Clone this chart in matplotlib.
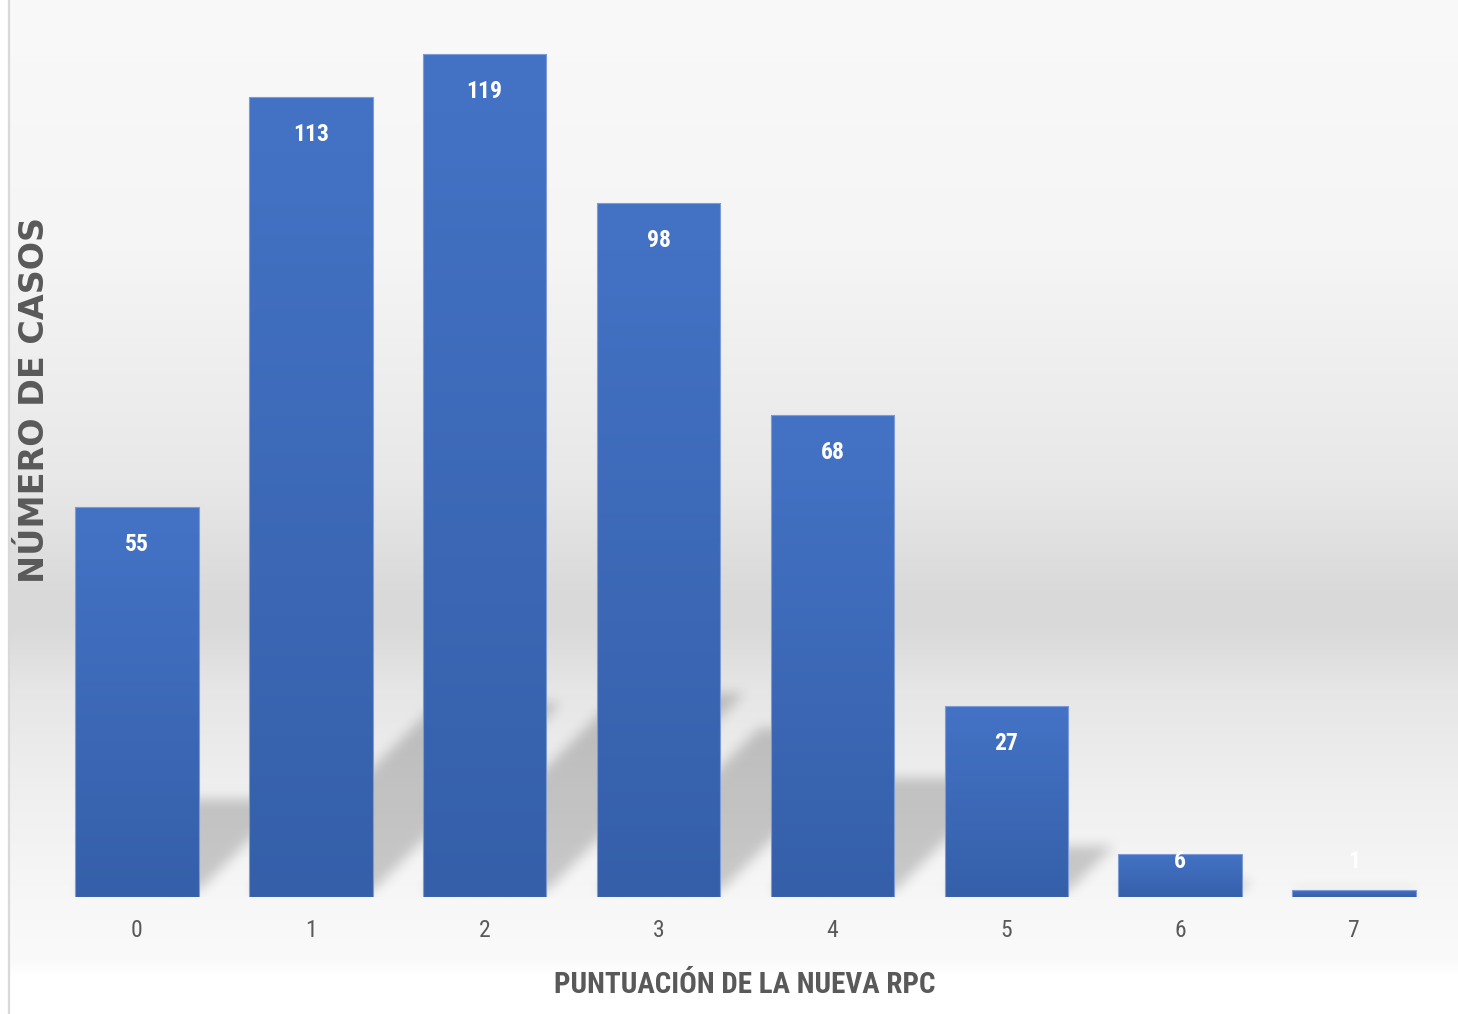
import numpy as np
import matplotlib
matplotlib.use("Agg")
import matplotlib.pyplot as plt
from matplotlib.lines import Line2D

# Scores of the new RPC and number of cases per score
scores = ["0", "1", "2", "3", "4", "5", "6", "7"]
cases = [55, 113, 119, 98, 68, 27, 6, 1]

x_title = "PUNTUACIÓN DE LA NUEVA RPC"
y_title = "NÚMERO DE CASOS"

W, H, DPI = 1458, 1014, 100
fig = plt.figure(figsize=(W / DPI, H / DPI), dpi=DPI, facecolor="white")

narrow = ["Liberation Sans Narrow", "Roboto Condensed", "DejaVu Sans"]
grey_txt = "#595959"

# ---- chart-area background: soft vertical grey gradient ----
bg = fig.add_axes([9 / W, 0, 1 - 9 / W, 1], zorder=0)
stops_y = np.array([0, 250, 480, 590, 625, 690, 800, 900, 960, 975, 1014])
stops_v = np.array([249, 245, 232, 218, 217, 230, 240, 247, 250, 255, 255]) / 255.0
rows = np.interp(np.arange(H) + 0.5, stops_y, stops_v)
grad = np.repeat(rows[:, None], 4, axis=1)
bg.imshow(np.dstack([grad, grad, grad]), aspect="auto", extent=(0, 1, 0, 1),
          origin="upper", interpolation="bilinear")
bg.set_axis_off()
fig.add_artist(Line2D([8.5 / W, 8.5 / W], [0, 1], color="#d9d9d9", lw=1.6,
                      transform=fig.transFigure, zorder=1))

# ---- main axes ----
ax_left, ax_right = 50, 1441
base_px, top_px = 897, 11.5
ax = fig.add_axes([ax_left / W, (H - base_px) / H, (ax_right - ax_left) / W,
                   (base_px - top_px) / H], zorder=2)
ax.patch.set_alpha(0)
ymax = 125
ax.set_xlim(-0.5, len(scores) - 0.5)
ax.set_ylim(0, ymax)

xpos = np.arange(len(scores))
bar_w = 0.71
bars = ax.bar(xpos, cases, width=bar_w, color="none", edgecolor="#7f9bd6",
              linewidth=0.8, zorder=3)

# ---- perspective shadows cast up-right behind each bar ----
ax_w_px = ax_right - ax_left
ax_h_px = int(round(base_px - top_px))
px_per_x = ax_w_px / (len(scores))
px_per_y = (base_px - top_px) / ymax
gx = np.arange(ax_w_px) + 0.5
gy = (np.arange(ax_h_px) + 0.5)[::-1]  # pixels above the baseline, top row first
GX, GY = np.meshgrid(gx, gy)
mask = np.zeros_like(GX)
squash = 0.235
lift = 6.0
for xi, v in zip(xpos, cases):
    xl = (xi - bar_w / 2 + 0.5) * px_per_x
    xr = (xi + bar_w / 2 + 0.5) * px_per_x
    h = v * px_per_y * squash
    xs = GX - (GY - lift)
    inside = (GY >= lift) & (GY <= h + lift) & (xs >= xl) & (xs <= xr)
    mask[inside] = 1.0

sigma = 6.0
k = np.arange(-20, 21)
kern = np.exp(-k ** 2 / (2 * sigma ** 2))
kern /= kern.sum()
pad = 21
m = np.pad(mask, pad, mode="constant")
m = np.apply_along_axis(lambda r: np.convolve(r, kern, mode="same"), 1, m)
m = np.apply_along_axis(lambda c: np.convolve(c, kern, mode="same"), 0, m)
m = m[pad:-pad, pad:-pad]
shadow = np.zeros((ax_h_px, ax_w_px, 4))
shadow[..., 3] = 0.19 * m
ax.imshow(shadow, extent=(-0.5, len(scores) - 0.5, 0, ymax), origin="upper",
          aspect="auto", interpolation="bilinear", zorder=1)

# ---- gradient fill inside each bar ----
top_c = np.array([0x44, 0x73, 0xC6]) / 255
bot_c = np.array([0x35, 0x5F, 0xA9]) / 255
tt = np.linspace(0, 1, 256)[:, None]
bar_grad = (top_c[None, :] * (1 - tt) + bot_c[None, :] * tt)[:, None, :]
for rect in bars:
    x0, w, hgt = rect.get_x(), rect.get_width(), rect.get_height()
    im = ax.imshow(bar_grad, extent=(x0, x0 + w, 0, hgt), origin="upper",
                   aspect="auto", interpolation="bilinear", zorder=2)
    im.set_clip_path(rect)
ax.set_xlim(-0.5, len(scores) - 0.5)
ax.set_ylim(0, ymax)

# ---- value labels ----
label_y = np.maximum(np.array(cases) - 5.3, 4.95)
for xi, v, ly in zip(xpos, cases, label_y):
    ax.text(xi, ly, str(v), ha="center", va="center", color="white",
            fontsize=17, fontweight="bold", family=narrow, zorder=5)

# ---- axes decoration ----
for s in ax.spines.values():
    s.set_visible(False)
ax.set_yticks([])
ax.set_xticks(xpos)
ax.set_xticklabels(scores, family=narrow, fontsize=17, color=grey_txt)
ax.tick_params(axis="x", length=0, pad=16)

fig.text(745 / W, 1 - 985 / H, x_title, ha="center", va="center",
         family=narrow, fontsize=21, fontweight="bold", color=grey_txt)
fig.text(35 / W, 1 - 400 / H, y_title, ha="center", va="center",
         rotation=90, family=["DejaVu Sans"], fontsize=24, fontweight="bold",
         color=grey_txt)

fig.savefig("out.png", dpi=DPI, facecolor="white")
